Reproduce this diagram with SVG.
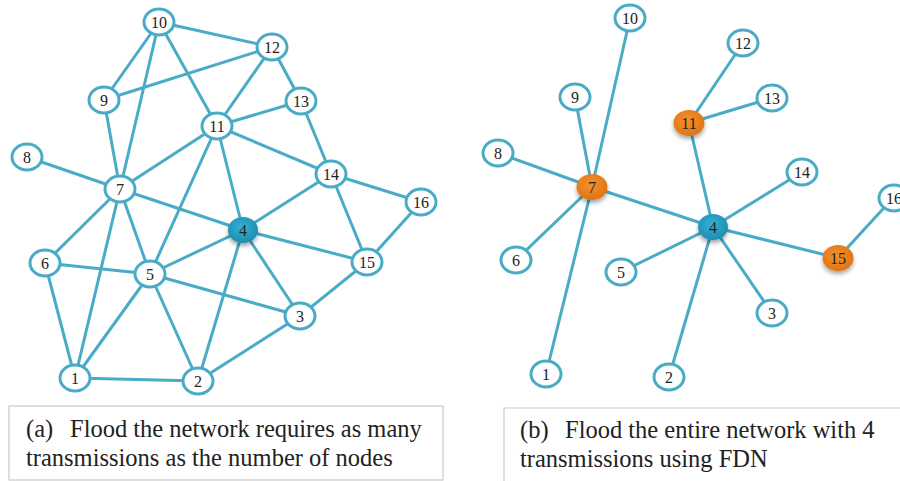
<svg xmlns="http://www.w3.org/2000/svg" width="900" height="481" viewBox="0 0 900 481">
<style>
.e{stroke:#4aabc6;stroke-width:3;fill:none}
.n{fill:#fff;stroke:#4aabc6;stroke-width:3}
.lb{font-family:"Liberation Serif",serif;font-size:16px;fill:#222;text-anchor:middle}
.cap{font-family:"Liberation Serif",serif;font-size:24.5px;fill:#222}
.box{fill:#fff;stroke:#c8c8c8;stroke-width:1.2}
</style>
<defs>
<radialGradient id="gb" cx="0.45" cy="0.4" r="0.6">
<stop offset="0" stop-color="#36b0d2"/>
<stop offset="1" stop-color="#1d8db2"/>
</radialGradient>
<radialGradient id="go" cx="0.45" cy="0.4" r="0.6">
<stop offset="0" stop-color="#f4922c"/>
<stop offset="1" stop-color="#e07415"/>
</radialGradient>
<filter id="sh" x="-40%" y="-40%" width="180%" height="200%">
<feDropShadow dx="0" dy="3" stdDeviation="2" flood-color="#000" flood-opacity="0.35"/>
</filter>
</defs>
<rect width="900" height="481" fill="#fff"/>

<g id="connectors-a">
<line class="e" x1="159" y1="22" x2="272" y2="47"/>
<line class="e" x1="159" y1="22" x2="104" y2="100"/>
<line class="e" x1="159" y1="22" x2="120" y2="189"/>
<line class="e" x1="159" y1="22" x2="217" y2="126"/>
<line class="e" x1="272" y1="47" x2="104" y2="100"/>
<line class="e" x1="272" y1="47" x2="217" y2="126"/>
<line class="e" x1="272" y1="47" x2="301" y2="101"/>
<line class="e" x1="104" y1="100" x2="120" y2="189"/>
<line class="e" x1="301" y1="101" x2="217" y2="126"/>
<line class="e" x1="301" y1="101" x2="331" y2="174"/>
<line class="e" x1="217" y1="126" x2="120" y2="189"/>
<line class="e" x1="217" y1="126" x2="150" y2="274"/>
<line class="e" x1="217" y1="126" x2="243" y2="230"/>
<line class="e" x1="217" y1="126" x2="331" y2="174"/>
<line class="e" x1="27" y1="157" x2="120" y2="189"/>
<line class="e" x1="120" y1="189" x2="243" y2="230"/>
<line class="e" x1="120" y1="189" x2="45" y2="263"/>
<line class="e" x1="120" y1="189" x2="75" y2="378"/>
<line class="e" x1="120" y1="189" x2="150" y2="274"/>
<line class="e" x1="331" y1="174" x2="243" y2="230"/>
<line class="e" x1="331" y1="174" x2="421" y2="202"/>
<line class="e" x1="331" y1="174" x2="367" y2="262"/>
<line class="e" x1="421" y1="202" x2="367" y2="262"/>
<line class="e" x1="243" y1="230" x2="150" y2="274"/>
<line class="e" x1="243" y1="230" x2="367" y2="262"/>
<line class="e" x1="243" y1="230" x2="300" y2="316"/>
<line class="e" x1="243" y1="230" x2="198" y2="381"/>
<line class="e" x1="45" y1="263" x2="150" y2="274"/>
<line class="e" x1="45" y1="263" x2="75" y2="378"/>
<line class="e" x1="150" y1="274" x2="75" y2="378"/>
<line class="e" x1="150" y1="274" x2="198" y2="381"/>
<line class="e" x1="150" y1="274" x2="300" y2="316"/>
<line class="e" x1="300" y1="316" x2="367" y2="262"/>
<line class="e" x1="300" y1="316" x2="198" y2="381"/>
<line class="e" x1="75" y1="378" x2="198" y2="381"/>
</g>

<g id="a-n1"><ellipse class="n" cx="75" cy="378" rx="15" ry="13"/><text class="lb" x="75" y="384">1</text></g>
<g id="a-n2"><ellipse class="n" cx="198" cy="381" rx="15" ry="13"/><text class="lb" x="198" y="387">2</text></g>
<g id="a-n3"><ellipse class="n" cx="300" cy="316" rx="15" ry="13"/><text class="lb" x="300" y="322">3</text></g>
<g id="a-n4"><ellipse cx="243" cy="230" rx="15" ry="13" fill="url(#gb)" filter="url(#sh)"/><text class="lb" x="243" y="236">4</text></g>
<g id="a-n5"><ellipse class="n" cx="150" cy="274" rx="15" ry="13"/><text class="lb" x="150" y="280">5</text></g>
<g id="a-n6"><ellipse class="n" cx="45" cy="263" rx="15" ry="13"/><text class="lb" x="45" y="269">6</text></g>
<g id="a-n7"><ellipse class="n" cx="120" cy="189" rx="15" ry="13"/><text class="lb" x="120" y="195">7</text></g>
<g id="a-n8"><ellipse class="n" cx="27" cy="157" rx="15" ry="13"/><text class="lb" x="27" y="163">8</text></g>
<g id="a-n9"><ellipse class="n" cx="104" cy="100" rx="15" ry="13"/><text class="lb" x="104" y="106">9</text></g>
<g id="a-n10"><ellipse class="n" cx="159" cy="22" rx="15" ry="13"/><text class="lb" x="159" y="28">10</text></g>
<g id="a-n11"><ellipse class="n" cx="217" cy="126" rx="15" ry="13"/><text class="lb" x="217" y="132">11</text></g>
<g id="a-n12"><ellipse class="n" cx="272" cy="47" rx="15" ry="13"/><text class="lb" x="272" y="53">12</text></g>
<g id="a-n13"><ellipse class="n" cx="301" cy="101" rx="15" ry="13"/><text class="lb" x="301" y="107">13</text></g>
<g id="a-n14"><ellipse class="n" cx="331" cy="174" rx="15" ry="13"/><text class="lb" x="331" y="180">14</text></g>
<g id="a-n15"><ellipse class="n" cx="367" cy="262" rx="15" ry="13"/><text class="lb" x="367" y="268">15</text></g>
<g id="a-n16"><ellipse class="n" cx="421" cy="202" rx="15" ry="13"/><text class="lb" x="421" y="208">16</text></g>

<g id="connectors-b">
<line class="e" x1="592" y1="187" x2="498" y2="153"/>
<line class="e" x1="592" y1="187" x2="575" y2="97"/>
<line class="e" x1="592" y1="187" x2="630" y2="18"/>
<line class="e" x1="592" y1="187" x2="516" y2="260"/>
<line class="e" x1="592" y1="187" x2="546" y2="374"/>
<line class="e" x1="592" y1="187" x2="713" y2="227"/>
<line class="e" x1="689" y1="123" x2="743" y2="43"/>
<line class="e" x1="689" y1="123" x2="772" y2="98"/>
<line class="e" x1="689" y1="123" x2="713" y2="227"/>
<line class="e" x1="713" y1="227" x2="802" y2="172"/>
<line class="e" x1="713" y1="227" x2="621" y2="272"/>
<line class="e" x1="713" y1="227" x2="669" y2="377"/>
<line class="e" x1="713" y1="227" x2="772" y2="313"/>
<line class="e" x1="713" y1="227" x2="838" y2="258"/>
<line class="e" x1="838" y1="258" x2="893" y2="198"/>
</g>

<g id="b-n1"><ellipse class="n" cx="546" cy="374" rx="15" ry="13"/><text class="lb" x="546" y="380">1</text></g>
<g id="b-n2"><ellipse class="n" cx="669" cy="377" rx="15" ry="13"/><text class="lb" x="669" y="383">2</text></g>
<g id="b-n3"><ellipse class="n" cx="772" cy="313" rx="15" ry="13"/><text class="lb" x="772" y="319">3</text></g>
<g id="b-n4"><ellipse cx="713" cy="227" rx="15" ry="13" fill="url(#gb)" filter="url(#sh)"/><text class="lb" x="713" y="233">4</text></g>
<g id="b-n5"><ellipse class="n" cx="621" cy="272" rx="15" ry="13"/><text class="lb" x="621" y="278">5</text></g>
<g id="b-n6"><ellipse class="n" cx="516" cy="260" rx="15" ry="13"/><text class="lb" x="516" y="266">6</text></g>
<g id="b-n7"><ellipse cx="592" cy="187" rx="15.5" ry="13" fill="url(#go)" filter="url(#sh)"/><text class="lb" x="592" y="193">7</text></g>
<g id="b-n8"><ellipse class="n" cx="498" cy="153" rx="15" ry="13"/><text class="lb" x="498" y="159">8</text></g>
<g id="b-n9"><ellipse class="n" cx="575" cy="97" rx="15" ry="13"/><text class="lb" x="575" y="103">9</text></g>
<g id="b-n10"><ellipse class="n" cx="630" cy="18" rx="15" ry="13"/><text class="lb" x="630" y="24">10</text></g>
<g id="b-n11"><ellipse cx="689" cy="123" rx="15.5" ry="13" fill="url(#go)" filter="url(#sh)"/><text class="lb" x="689" y="129">11</text></g>
<g id="b-n12"><ellipse class="n" cx="743" cy="43" rx="15" ry="13"/><text class="lb" x="743" y="49">12</text></g>
<g id="b-n13"><ellipse class="n" cx="772" cy="98" rx="15" ry="13"/><text class="lb" x="772" y="104">13</text></g>
<g id="b-n14"><ellipse class="n" cx="802" cy="172" rx="15" ry="13"/><text class="lb" x="802" y="178">14</text></g>
<g id="b-n15"><ellipse cx="838" cy="258" rx="15.5" ry="13" fill="url(#go)" filter="url(#sh)"/><text class="lb" x="838" y="264">15</text></g>
<g id="b-n16"><ellipse class="n" cx="894" cy="198" rx="15" ry="13"/><text class="lb" x="894" y="204">16</text></g>

<g id="caption-a">
<rect class="box" x="9" y="406" width="434" height="74"/>
<text class="cap" x="26" y="437">(a)<tspan x="70">Flood the network requires as many</tspan></text>
<text class="cap" x="26" y="466">transmissions as the number of nodes</text>
</g>
<g id="caption-b">
<path d="M504 481 V408 H900" fill="none" stroke="#c8c8c8" stroke-width="1.2"/>
<text class="cap" x="520" y="438">(b)<tspan x="565">Flood the entire network with 4</tspan></text>
<text class="cap" x="520" y="467">transmissions using FDN</text>
</g>
</svg>
